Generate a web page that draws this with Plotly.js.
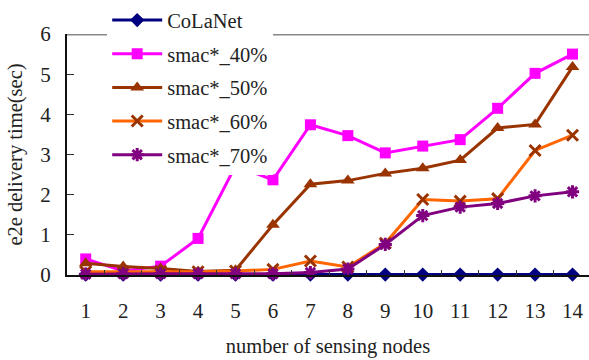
<!DOCTYPE html>
<html><head><meta charset="utf-8">
<script src="https://cdn.plot.ly/plotly-3.0.1.min.js"></script>
<style>html,body{margin:0;padding:0;background:#fff}#chart{width:589px;height:360px}</style>
</head><body><div id="chart"></div>
<script>
const categories = ['1','2','3','4','5','6','7','8','9','10','11','12','13','14'];
const colanet = [0.01,0.01,0.01,0.01,0.01,0.01,0.01,0.01,0.01,0.01,0.01,0.01,0.01,0.01];
const smac40 = [0.40,0.10,0.22,0.91,2.72,2.37,3.74,3.47,3.04,3.21,3.37,4.15,5.02,5.50];
const smac50 = [0.29,0.21,0.16,0.09,0.12,1.25,2.26,2.35,2.53,2.66,2.86,3.66,3.75,5.18];
const smac60 = [0.08,0.08,0.09,0.08,0.10,0.14,0.35,0.20,0.79,1.88,1.84,1.90,3.10,3.48];
const smac70 = [0.02,0.03,0.03,0.03,0.03,0.03,0.06,0.15,0.76,1.48,1.69,1.78,1.97,2.07];
const names = ['CoLaNet','smac*_40%','smac*_50%','smac*_60%','smac*_70%'];

const font = "Liberation Serif, serif";
function tr(y, name, lineColor, symbol, mColor, size, open, grp){
  const m = open ? {symbol: symbol, size: size, color: mColor, line:{color: mColor, width: 3}}
                 : {symbol: symbol, size: size, color: mColor, line:{width:0}};
  return {x: categories, y: y, name: name, type:'scatter', mode:'lines+markers',
    line:{color: lineColor, width: 3}, marker: m, cliponaxis:false, legendgroup: grp};
}
const data = [
  tr(colanet, names[0], '#000080', 'diamond', '#000080', 11, false, 'a'),
  tr(smac40, names[1], '#FF00FF', 'square', '#FF00FF', 11, false, 'b'),
  tr(smac50, names[2], '#993300', 'triangle-up', '#993300', 12, false, 'c'),
  tr(smac60, names[3], '#FF6600', 'x-thin-open', '#993300', 11, true, 'd'),
  tr(smac70, names[4], '#800080', 'asterisk-open', '#800080', 11, true, 'e')
];
const layout = {
  width:589, height:360,
  margin:{l:67, r:0, t:34, b:85},
  paper_bgcolor:'#fff', plot_bgcolor:'#fff',
  font:{family: font, size:20, color:'#222'},
  showlegend:true,
  legend:{x:0.077, y:1.14, xanchor:'left', yanchor:'top', bgcolor:'#fff',
    font:{family: font, size:20.5, color:'#222'}, tracegroupgap:4, traceorder:'grouped', itemwidth:50},
  xaxis:{type:'category', range:[-0.5, 13.44], tickson:'boundaries', ticks:'inside', ticklen:5,
    tickcolor:'#333', tickwidth:1, showline:true, linecolor:'#111', linewidth:2, showgrid:false,
    zeroline:false, ticklabelstandoff:16, tickfont:{family:font, size:21, color:'#222'},
    title:{text:'number of sensing nodes', standoff:16, font:{family:font, size:20.5, color:'#222'}}},
  yaxis:{range:[0,6], dtick:1, ticks:'inside', ticklen:7, tickcolor:'#333', tickwidth:1,
    showline:true, linecolor:'#111', linewidth:2, showgrid:false, zeroline:false,
    ticklabelstandoff:10, tickfont:{family:font, size:21, color:'#222'},
    title:{text:'e2e delivery time(sec)', standoff:12, font:{family:font, size:20.5, color:'#222'}}},
  shapes:[{type:'line', xref:'paper', yref:'y', x0:0, x1:1, y0:6, y1:6, layer:'below',
    line:{color:'#888', width:3}}]
};
Plotly.newPlot('chart', data, layout, {displayModeBar:false, staticPlot:true});
</script></body></html>
